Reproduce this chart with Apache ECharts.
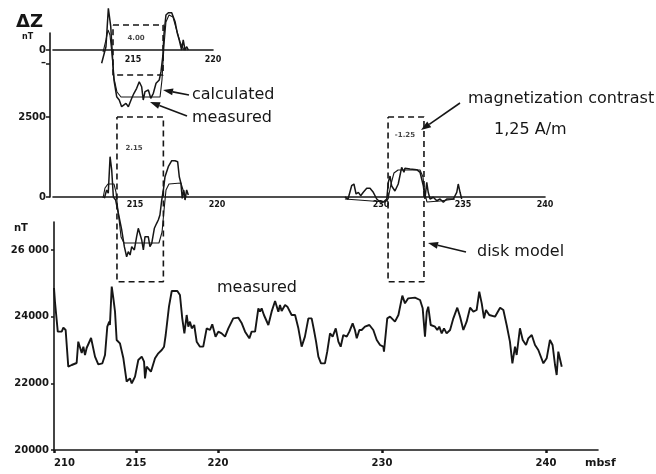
<!DOCTYPE html>
<html><head><meta charset="utf-8">
<script src="https://cdn.jsdelivr.net/npm/echarts@6/dist/echarts.min.js"></script>
<style>html,body{margin:0;padding:0;background:#fff}#c{width:656px;height:474px}</style>
</head><body><div id="c"></div>
<script>
// ---- bottom panel: measured total field (nT) vs depth (mbsf)
const bottomDepth = [210.0,210.06,210.23,210.47,210.57,210.71,210.87,211.08,211.38,211.48,211.59,211.69,211.79,211.89,211.99,212.09,212.26,212.36,212.5,212.7,212.95,213.11,213.25,213.37,213.41,213.52,213.62,213.72,213.82,214.02,214.23,214.43,214.63,214.74,214.84,214.94,215.14,215.35,215.49,215.55,215.65,215.75,215.91,216.02,216.16,216.36,216.57,216.71,216.81,217.01,217.18,217.52,217.68,217.82,217.95,218.09,218.19,218.29,218.4,218.55,218.7,218.9,219.1,219.31,219.51,219.65,219.85,220.02,220.22,220.43,220.63,220.93,221.24,221.45,221.65,221.91,222.05,222.26,222.46,222.56,222.66,222.8,223.07,223.27,223.48,223.68,223.78,223.88,224.09,224.23,224.49,224.7,224.9,225.1,225.3,225.51,225.71,225.85,225.98,226.12,226.28,226.52,226.66,226.83,226.99,227.18,227.34,227.48,227.64,227.85,228.01,228.21,228.35,228.46,228.62,228.76,228.96,229.23,229.47,229.68,229.88,230.08,230.12,230.32,230.49,230.79,231.0,231.24,231.4,231.6,232.01,232.32,232.48,232.62,232.73,232.82,232.97,233.23,233.37,233.49,233.64,233.78,233.94,234.15,234.35,234.59,234.76,234.96,235.16,235.37,235.57,235.77,235.93,236.08,236.22,236.34,236.54,236.89,237.2,237.4,237.6,237.8,237.95,238.11,238.21,238.41,238.58,238.78,238.92,239.13,239.33,239.53,239.84,240.04,240.24,240.4,240.55,240.65,240.75,240.96];
const bottomNT = [24860,24440,23550,23550,23670,23600,22500,22550,22610,23250,23210,22910,23100,22850,23060,23000,23360,23300,22800,22570,22600,22850,23700,23850,23750,24900,24550,24150,23300,23200,22750,22050,22150,22000,22100,22200,22700,22800,22650,22150,22500,22550,22350,22300,22750,22900,23000,23100,23450,24300,24770,24770,24650,23950,23500,24050,23700,23850,23650,23750,23250,23100,23100,23650,23600,23770,23400,23550,23500,23400,23650,23950,23970,23800,23550,23350,23550,23550,24250,24150,24250,24050,23750,24150,24470,24150,24350,24170,24350,24300,24050,24050,23650,23100,23400,23950,23950,23600,23250,22800,22600,22600,22950,23500,23400,23650,23250,23100,23450,23400,23550,23800,23600,23350,23600,23600,23700,23750,23600,23300,23150,23100,22950,23950,24000,23850,24050,24630,24400,24550,24570,24500,24250,23400,24150,24300,23750,23700,23600,23700,23500,23650,23500,23600,23950,24270,24000,23600,23850,24270,24150,24200,24750,24400,23950,24200,24050,24000,24270,24200,23750,23250,22600,23100,22850,23650,23300,23150,23350,23450,23150,23000,22600,22750,23300,23150,22550,22250,22950,22500];

// ---- top panel: ΔZ anomaly (nT), contrast 4.00
const topMeasDepth = [213.04,213.31,213.46,213.61,213.73,213.81,213.98,214.14,214.29,214.39,214.56,214.71,214.92,215.06,215.23,215.39,215.54,215.64,215.75,215.96,216.11,216.27,216.44,216.64,216.75,216.86,216.94,217.06,217.21,217.42,217.63,217.77,217.89,218.04,218.14,218.25,218.36,218.46];
const topMeasNT = [-416,103,1303,728,-313,-938,-1459,-1563,-1772,-1822,-1666,-1772,-1509,-1353,-1197,-991,-1147,-1563,-1303,-1250,-1509,-1353,-1041,-938,-678,-209,522,1094,1166,1166,884,522,313,0,313,0,103,0];
const topCalcDepth = [213.13,213.31,213.44,213.56,213.69,213.81,214.0,214.25,216.69,216.81,216.94,217.06,217.25,217.5,217.69,217.94,218.19];
const topCalcNT = [-63,313,625,469,-156,-875,-1313,-1469,-1469,-938,156,875,1094,1031,688,250,0];

// ---- middle panel: ΔZ anomaly (nT), contrasts 2.15 and -1.25
const midMeasDepthL = [213.13,213.27,213.37,213.48,213.58,213.68,213.82,213.98,214.19,214.35,214.49,214.59,214.7,214.8,214.96,215.1,215.2,215.3,215.41,215.51,215.61,215.71,215.81,215.91,216.02,216.18,216.32,216.42,216.52,216.63,216.73,216.83,217.03,217.24,217.44,217.6,217.7,217.8,217.88,217.97,218.05,218.15,218.25];
const midMeasNTL = [-41,219,116,1259,844,0,-94,-500,-1031,-1553,-1866,-1709,-1813,-1553,-1656,-1241,-978,-1031,-1344,-1656,-1241,-1291,-1241,-1553,-1447,-978,-822,-719,-563,-94,219,634,947,1134,1134,1103,634,428,-41,219,-94,219,63];
const midCalcDepthL = [213.05,213.17,213.35,213.72,213.84,213.96,214.15,214.33,216.46,216.65,216.77,216.89,217.07,217.8,217.93,218.11];
const midCalcNTL = [-31,281,406,406,156,-406,-1250,-1438,-1438,-1094,-406,219,406,438,219,0];
const midMeasDepthR = [227.8,227.99,228.21,228.35,228.48,228.62,228.76,228.92,229.13,229.33,229.53,229.74,229.94,230.14,230.35,230.45,230.55,230.65,230.85,231.05,231.26,231.4,231.46,231.77,232.18,232.38,232.58,232.68,232.79,232.88,232.99,233.19,233.4,233.6,233.8,234.01,234.41,234.62,234.71,234.82,234.92];
const midMeasNTR = [0,-63,353,406,94,147,41,147,272,272,147,-63,-156,-156,-63,469,656,344,188,406,928,772,897,875,853,772,353,-63,459,147,-63,-9,-116,-63,-166,-63,-63,147,406,147,-63];
const midCalcDepthR = [227.8,230.24,230.43,230.61,230.79,231.04,232.38,232.56,232.68,232.8,233.6,234.51];
const midCalcNTR = [-63,-156,-63,406,750,844,844,625,94,-156,-125,-63];

// ---- disk models (dashed boxes): depth range, nT range, label
const topBoxDepth = [213.75,216.88];
const topBoxNT = [781,-781];
const midBoxDepth = [[213.9,216.73],[230.43,232.62]];
const midBoxNT = [[2500,-2650],[2500,-2650]];
const boxLabels = ['4.00','2.15','-1.25'];
const boxLabelDepth = [215.19,214.94,231.46];
const boxLabelNT = [375,1531,1938];

// ---- tick labels
const topXTicks = [215,220];
const midXTicks = [215,220,230,235,240];
const bottomXTicks = [210,215,220,230,240];
const topYTicks = [0];
const midYTicks = [0,2500,4160];   // 4160: the '–' mark just under the top profile's zero
const bottomYTicks = [20000,22000,24000,26000];

const ink = '#161616';
const FF = 'DejaVu Sans';
const pairs = (xs, ys) => xs.map((x, i) => [x, ys[i]]);
const rect = (d, v) => [[d[0],v[0]],[d[1],v[0]],[d[1],v[1]],[d[0],v[1]],[d[0],v[0]]];

function lineSeries(data, xi, w, extra) {
  return Object.assign({
    type: 'line', xAxisIndex: xi, yAxisIndex: xi, data: data, symbol: 'none',
    clip: false, silent: true, animation: false,
    lineStyle: { color: ink, width: w }
  }, extra || {});
}
function boxSeries(data, xi) {
  return lineSeries(data, xi, 1.6, { lineStyle: { color: ink, width: 1.6, type: [6, 4] } });
}

const smallLab = { color: ink, fontFamily: FF, fontWeight: 'bold', fontSize: 8 };
const axLab = { color: ink, fontFamily: FF, fontWeight: 'bold', fontSize: 10 };
const axLine = { show: true, lineStyle: { color: ink, width: 1.6 } };

const series = [
  lineSeries(pairs(topMeasDepth, topMeasNT), 0, 1.5),
  lineSeries(pairs(topCalcDepth, topCalcNT), 0, 1.1),
  boxSeries(rect(topBoxDepth, topBoxNT), 0),
  lineSeries(pairs(midMeasDepthL, midMeasNTL), 1, 1.5),
  lineSeries(pairs(midCalcDepthL, midCalcNTL), 1, 1.1),
  lineSeries(pairs(midMeasDepthR, midMeasNTR), 1, 1.5),
  lineSeries(pairs(midCalcDepthR, midCalcNTR), 1, 1.1),
  boxSeries(rect(midBoxDepth[0], midBoxNT[0]), 1),
  boxSeries(rect(midBoxDepth[1], midBoxNT[1]), 1),
  lineSeries(pairs(bottomDepth, bottomNT), 2, 1.9),
  {
    type: 'scatter', xAxisIndex: 0, yAxisIndex: 0, symbolSize: 0, silent: true, animation: false,
    data: [[boxLabelDepth[0], boxLabelNT[0], boxLabels[0]]],
    label: { show: true, position: 'inside', formatter: p => p.value[2], color: ink, fontFamily: FF, fontWeight: 'bold', fontSize: 7 }
  },
  {
    type: 'scatter', xAxisIndex: 1, yAxisIndex: 1, symbolSize: 0, silent: true, animation: false,
    data: [[boxLabelDepth[1], boxLabelNT[1], boxLabels[1]], [boxLabelDepth[2], boxLabelNT[2], boxLabels[2]]],
    label: { show: true, position: 'inside', formatter: p => p.value[2], color: ink, fontFamily: FF, fontWeight: 'bold', fontSize: 7 }
  }
];

function arrow(x1, y1, x2, y2) {
  const a = Math.atan2(y2 - y1, x2 - x1), L = 10, W = 3.5;
  const bx = x2 - L * Math.cos(a), by = y2 - L * Math.sin(a);
  const px = -Math.sin(a) * W, py = Math.cos(a) * W;
  return [
    { type: 'line', shape: { x1: x1, y1: y1, x2: bx, y2: by }, style: { stroke: ink, lineWidth: 1.6 } },
    { type: 'polygon', shape: { points: [[x2, y2], [bx + px, by + py], [bx - px, by - py]] }, style: { fill: ink } }
  ];
}
function txt(x, y, s, size, weight, align) {
  return { type: 'text', x: x, y: y, style: { text: s, fill: ink, font: (weight || 'normal') + ' ' + size + 'px "' + FF + '"', textAlign: align || 'left', textVerticalAlign: 'middle' } };
}

const graphic = [
  txt(16, 22, 'ΔZ', 18, 'bold'),
  txt(22, 37, 'nT', 8, 'bold'),
  txt(14, 228, 'nT', 10, 'bold'),
  txt(192, 95, 'calculated', 16),
  txt(192, 118, 'measured', 16),
  txt(468, 99, 'magnetization contrast', 16),
  txt(494, 130, '1,25 A/m', 16),
  txt(477, 252, 'disk model', 16),
  txt(217, 288, 'measured', 16)
].concat(arrow(189, 95, 163, 90), arrow(187, 116, 150, 102), arrow(460, 103, 421, 130), arrow(466, 252, 428, 243));

const option = {
  backgroundColor: '#ffffff',
  animation: false,
  grid: [
    { left: 53, top: 2, width: 160, height: 48 },
    { left: 53, top: 33, width: 492, height: 164 },
    { left: 54, top: 222, width: 544, height: 228 }
  ],
  xAxis: [
    { gridIndex: 0, type: 'value', min: 210, max: 220, axisLine: axLine,
      axisTick: { show: false }, splitLine: { show: false },
      axisLabel: Object.assign({ customValues: topXTicks, margin: 6 }, smallLab) },
    { gridIndex: 1, type: 'value', min: 210, max: 240, axisLine: axLine,
      axisTick: { show: false }, splitLine: { show: false },
      axisLabel: Object.assign({ customValues: midXTicks, margin: 4 }, smallLab) },
    { gridIndex: 2, type: 'value', min: 210, max: 243.17, axisLine: axLine,
      axisTick: { show: true, customValues: bottomXTicks, length: 3, lineStyle: { color: ink, width: 2.5 } },
      splitLine: { show: false },
      axisLabel: Object.assign({ customValues: bottomXTicks, margin: 8, alignMinLabel: 'left' }, axLab),
      name: 'mbsf', nameLocation: 'end', nameGap: -13,
      nameTextStyle: { color: ink, fontFamily: FF, fontWeight: 'bold', fontSize: 11, align: 'left', verticalAlign: 'top', padding: [8, 0, 0, 0] } }
  ],
  yAxis: [
    { gridIndex: 0, type: 'value', min: 0, max: 1500, offset: 3, axisLine: { show: false },
      axisTick: { show: true, customValues: topYTicks, length: 4, lineStyle: { color: ink, width: 1.5 } },
      splitLine: { show: false },
      axisLabel: Object.assign({ customValues: topYTicks, margin: 4, formatter: v => String(v) }, axLab) },
    { gridIndex: 1, type: 'value', min: 0, max: 5125, offset: 3, axisLine: axLine,
      axisTick: { show: true, customValues: midYTicks, length: 4, lineStyle: { color: ink, width: 1.5 } },
      splitLine: { show: false },
      axisLabel: Object.assign({ customValues: midYTicks, margin: 4, formatter: v => (v === 4160 ? '–' : String(v)) }, axLab) },
    { gridIndex: 2, type: 'value', min: 20000, max: 26840, axisLine: axLine,
      axisTick: { show: true, customValues: bottomYTicks, length: 3, lineStyle: { color: ink, width: 1.5 } },
      splitLine: { show: false },
      axisLabel: Object.assign({ customValues: bottomYTicks, margin: 5, formatter: v => (v === 26000 ? '26 000' : String(v)) }, axLab) }
  ],
  series: series,
  graphic: graphic
};
const chart = echarts.init(document.getElementById('c'));
chart.setOption(option);
</script></body></html>
